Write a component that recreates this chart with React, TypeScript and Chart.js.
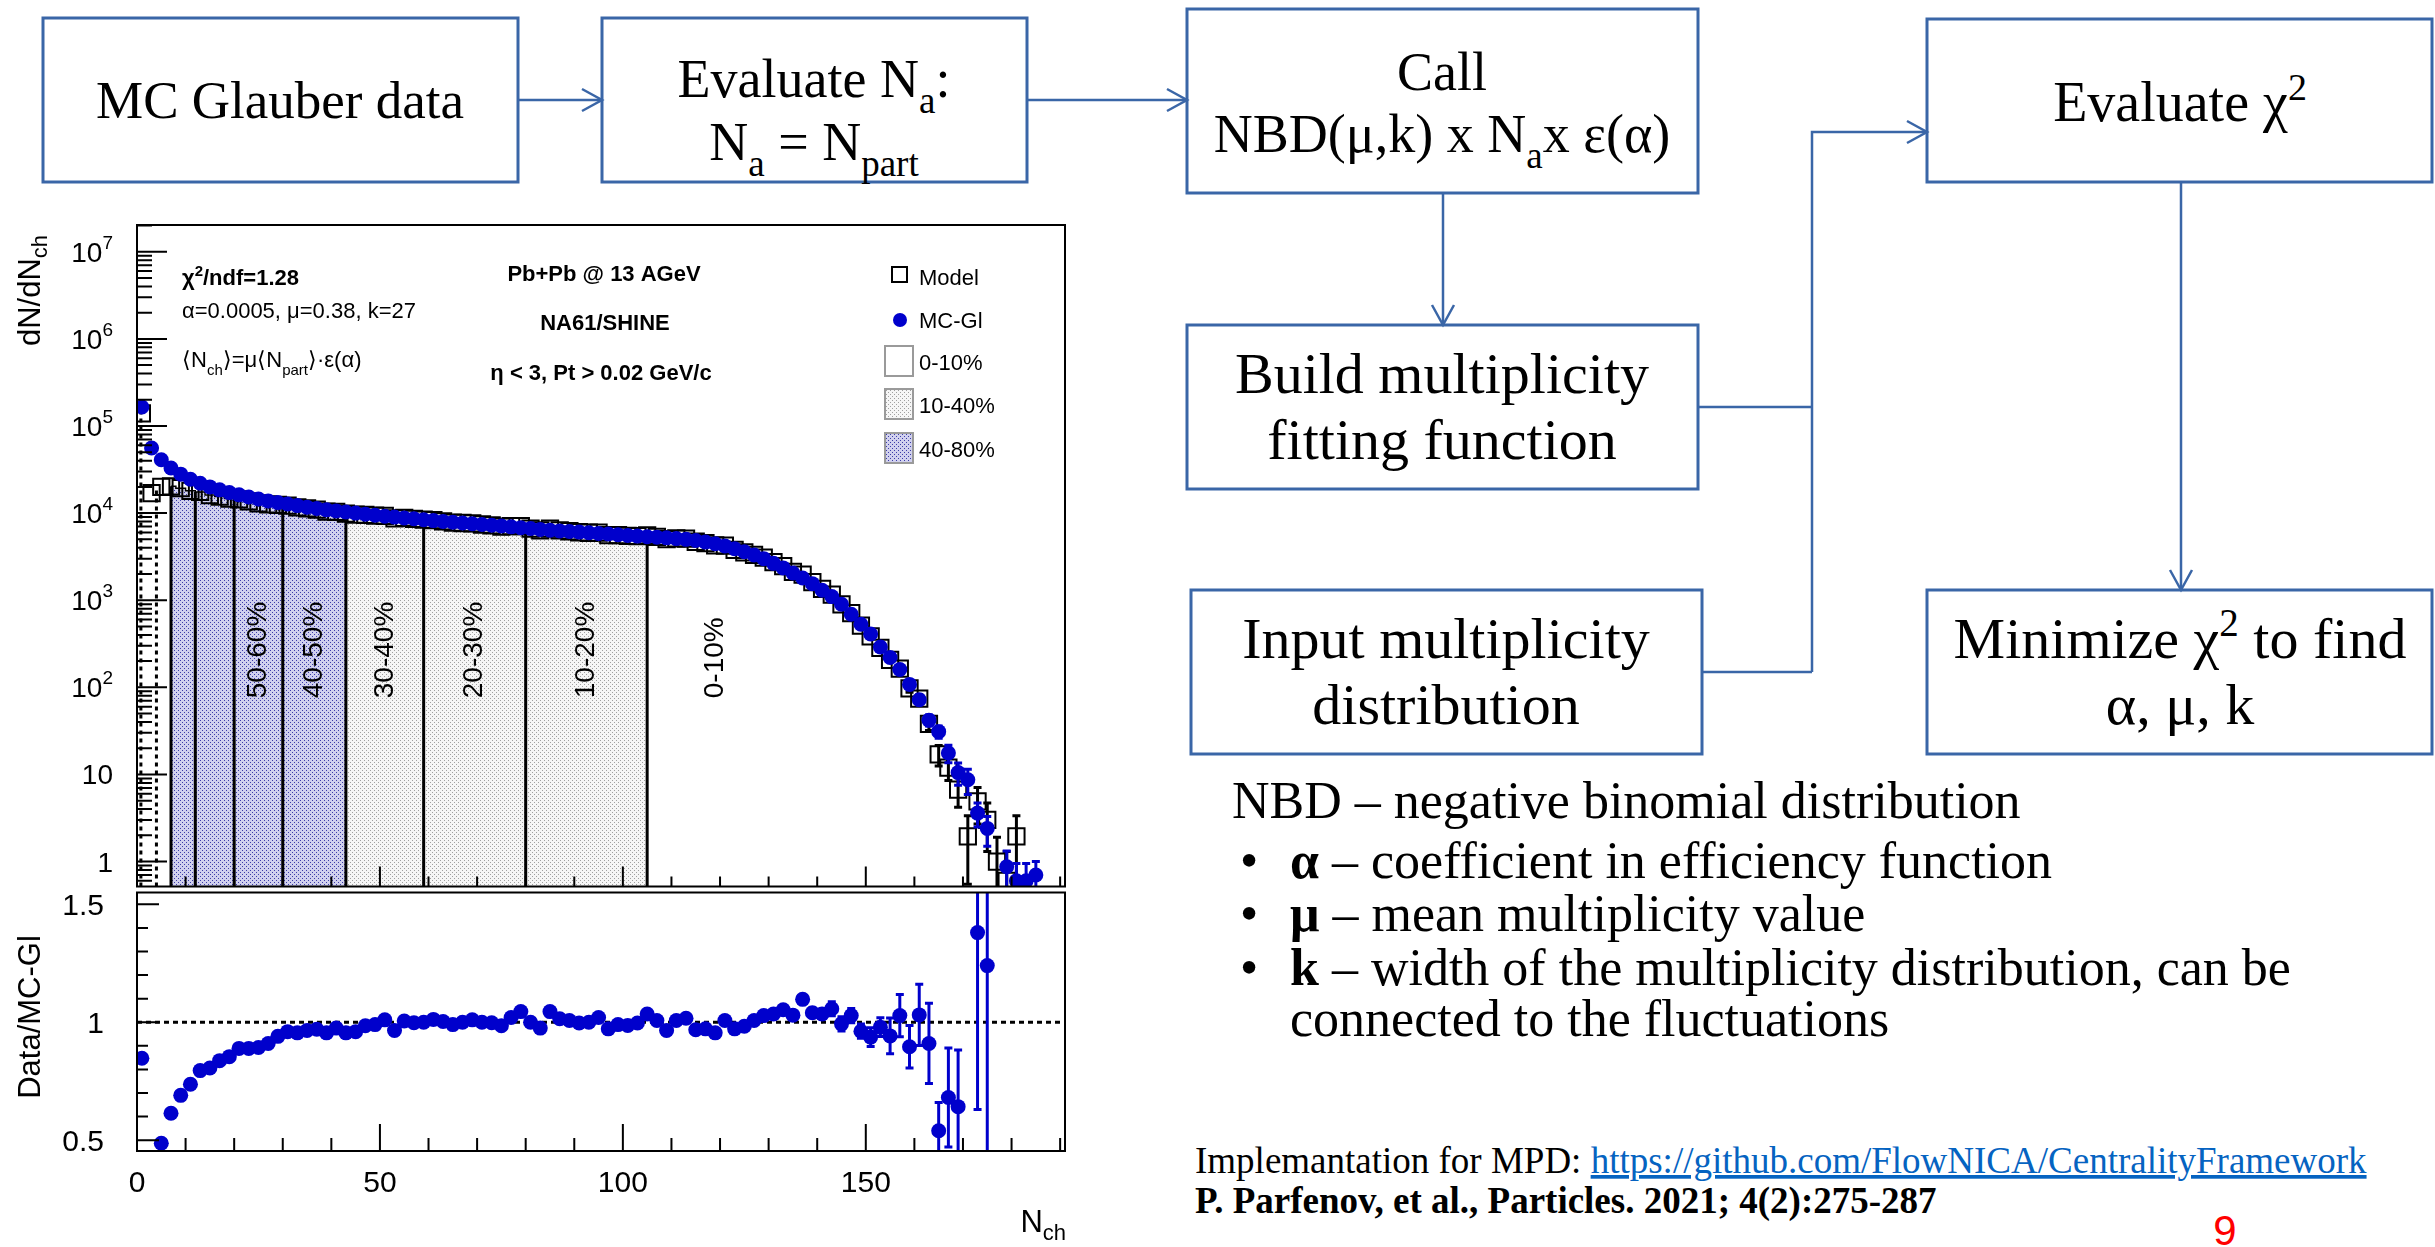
import React, { useEffect, useRef } from 'react';
import { Chart, registerables } from 'chart.js';

Chart.register(...registerables);

// ---------------- data ----------------
const binCenters = [
  1, 3, 5, 7, 9, 11, 13, 15, 17, 19, 21, 23, 25, 27, 29, 31, 33, 35, 37, 39,
  41, 43, 45, 47, 49, 51, 53, 55, 57, 59, 61, 63, 65, 67, 69, 71, 73, 75, 77, 79,
  81, 83, 85, 87, 89, 91, 93, 95, 97, 99, 101, 103, 105, 107, 109, 111, 113, 115, 117, 119,
  121, 123, 125, 127, 129, 131, 133, 135, 137, 139, 141, 143, 145, 147, 149, 151, 153, 155, 157, 159,
  161, 163, 165, 167, 169, 171, 173, 175, 177, 179, 181, 183, 185,
];

const mcglValues = [
  165000, 56000, 41000, 33000, 28000, 24500, 22000, 20000, 18500, 17200,
  16200, 15300, 14500, 13800, 13200, 12700, 12200, 11700, 11300, 10900,
  10600, 10300, 10000, 9700, 9450, 9200, 9000, 8800, 8600, 8400,
  8200, 8000, 7850, 7700, 7550, 7400, 7250, 7100, 6950, 6800,
  6650, 6500, 6350, 6250, 6150, 6050, 5950, 5850, 5750, 5650,
  5550, 5450, 5350, 5300, 5200, 5100, 5000, 4850, 4650, 4450,
  4200, 3900, 3600, 3300, 3000, 2650, 2350, 2050, 1800, 1550,
  1300, 1100, 900, 690, 530, 410, 290, 220, 160, 108,
  72, 42, 31, 17.6, 10.5, 8.7, 3.6, 2.4, null, 0.87,
  0.6, 0.6, 0.7,
];

const modelValues = [
  140000, 17000, 20000, 20300, 19300, 18000, 17500, 16100, 15500, 14700,
  14400, 13600, 12900, 12600, 12400, 12200, 11650, 11300, 10960, 10400,
  10300, 9840, 9600, 9550, 9360, 9290, 8690, 8840, 8580, 8400,
  8300, 8020, 7770, 7700, 7630, 7400, 7240, 6990, 7090, 7110,
  6650, 6340, 6640, 6340, 6190, 6030, 5950, 5970, 5590, 5590,
  5470, 5430, 5540, 5340, 5020, 5140, 5090, 4690, 4520, 4250,
  4230, 3790, 3540, 3320, 3080, 2740, 2470, 2110, 1970, 1610,
  1350, 1160, 894, 709, 510, 384, 284, 207, 164, 97,
  74, 38, 17, 12, 6.7, 1.95, 4.9, 3.0, 1.0, 0.6,
  1.95, null, null,
];

const ratioValues = [
  0.847, null, 0.487, 0.614, 0.69, 0.737, 0.795, 0.806, 0.837, 0.854,
  0.889, 0.889, 0.893, 0.91, 0.94, 0.96, 0.955, 0.965, 0.97, 0.955,
  0.975, 0.955, 0.96, 0.985, 0.99, 1.01, 0.965, 1.005, 0.998, 1.0,
  1.012, 1.003, 0.99, 1.0, 1.01, 1.0, 0.998, 0.985, 1.02, 1.045,
  1.0, 0.975, 1.045, 1.015, 1.007, 0.997, 1.0, 1.02, 0.972, 0.99,
  0.986, 0.997, 1.035, 1.007, 0.965, 1.007, 1.017, 0.968, 0.972, 0.955,
  1.007, 0.972, 0.983, 1.007, 1.028, 1.035, 1.053, 1.03, 1.097, 1.04,
  1.035, 1.057, 0.993, 1.028, 0.962, 0.937, 0.979, 0.942, 1.028, 0.896,
  1.031, 0.91, 0.54, 0.681, 0.642, null, 1.38, 1.24, null, null,
  null, null, null,
];

const mcglErrorPairs = [
  [163, 6], [165, 5], [167, 4], [169, 3], [171, 2.8], [173, 1.1], [175, 0.9],
  [179, 0.45], [181, 0.35], [183, 0.35], [185, 0.3],
];
const modelErrorPairs = [
  [155, 8], [157, 8], [159, 9], [161, 8], [163, 6], [165, 4.5], [167, 3.5], [169, 2.5],
  [171, 1.4], [173, 2.2], [175, 1.7], [177, 0.9], [179, 0.7], [181, 1.4],
];
const ratioErrorPairs = [
  [139, 0.02], [141, 0.02], [143, 0.03], [145, 0.03], [147, 0.03], [149, 0.03], [151, 0.04],
  [153, 0.04], [155, 0.076], [157, 0.09], [159, 0.09], [161, 0.13], [163, 0.17], [165, 0.12],
  [167, 0.21], [169, 0.24], [173, 0.75], [175, 0.8],
];

const centralityEdges = [7, 12, 20, 30, 43, 59, 80, 105];
const peripheralEdges = [0.8, 4];
const band40to80 = [7, 43];
const band10to40 = [43, 105];
const regionLabels = ['50-60%', '40-50%', '30-40%', '20-30%', '10-20%', '0-10%'];
const regionLabelN = [25, 36.5, 51, 69.5, 92.5, 119];
const regionLabelBaseValue = 75;
const upperYDecades = [0, 1, 2, 3, 4, 5, 6, 7];
const lowerYTickLabels = [0.5, 1, 1.5];
const xTickLabels = [0, 50, 100, 150];
const legendLabels = ['Model', 'MC-Gl', '0-10%', '10-40%', '40-80%'];
const ratioReference = 1;

const X_MIN = 0;
const X_MAX = 191;
const UPPER_Y_MIN = 0.517;
const UPPER_Y_MAX = 2.03e7;
const LOWER_Y_MIN = 0.454;
const LOWER_Y_MAX = 1.55;

// ---------------- layout ----------------
const UPPER_TOP = 200;
const LOWER_TOP = 885;
const CANVAS_W = 1110;
const UPPER_H = 700;
const LOWER_H = 362;

const SANS = '"Liberation Sans", Arial, Helvetica, sans-serif';
const SERIF = '"Liberation Serif", "Times New Roman", serif';
const MC_BLUE = '#0000cc';
const LINE = '#3a66a7';

type Seg = { t: string; s: number; dy?: number; b?: boolean };

function segFont(g: Seg) {
  return `${g.b ? 'bold ' : ''}${g.s}px ${SANS}`;
}
function richWidth(ctx: CanvasRenderingContext2D, segs: Seg[]) {
  let w = 0;
  for (const g of segs) {
    ctx.font = segFont(g);
    w += ctx.measureText(g.t).width;
  }
  return w;
}
function drawRich(ctx: CanvasRenderingContext2D, x: number, y: number, segs: Seg[], align: string) {
  const w = richWidth(ctx, segs);
  let cx = align === 'left' ? x : align === 'center' ? x - w / 2 : x - w;
  ctx.textAlign = 'left';
  for (const g of segs) {
    ctx.font = segFont(g);
    ctx.fillText(g.t, cx, y + (g.dy || 0));
    cx += ctx.measureText(g.t).width;
  }
}
function drawRichRotated(ctx: CanvasRenderingContext2D, x: number, y: number, segs: Seg[], align: string) {
  ctx.save();
  ctx.translate(x, y);
  ctx.rotate(-Math.PI / 2);
  drawRich(ctx, 0, 0, segs, align);
  ctx.restore();
}

function makePattern(bg: string, dot: string) {
  const c = document.createElement('canvas');
  c.width = 4;
  c.height = 4;
  const g = c.getContext('2d')!;
  g.fillStyle = bg;
  g.fillRect(0, 0, 4, 4);
  g.fillStyle = dot;
  g.fillRect(0, 0, 1, 1);
  g.fillRect(2, 2, 1, 1);
  return g.createPattern(c, 'repeat');
}

function modelAt(e: number) {
  const i = binCenters.findIndex((c) => e >= c - 1 && e < c + 1);
  return i >= 0 ? modelValues[i] : null;
}

function bandSteps(band: number[]) {
  const [a, b] = band;
  const pts: { x: number; y: number }[] = [];
  binCenters.forEach((c, i) => {
    const lo = c - 1;
    const hi = c + 1;
    const v = modelValues[i];
    if (v == null || hi <= a || lo >= b) return;
    pts.push({ x: Math.max(lo, a), y: v }, { x: Math.min(hi, b), y: v });
  });
  return pts;
}

const errorBars = {
  id: 'errorBars',
  beforeDatasetDraw(chart: any, args: any) {
    const ds: any = chart.data.datasets[args.index];
    if (!ds.errorPairs) return;
    const { ctx, chartArea: a } = chart;
    const xs = chart.scales.x;
    const ys = chart.scales.y;
    ctx.save();
    ctx.beginPath();
    ctx.rect(a.left, a.top, a.right - a.left, a.bottom - a.top);
    ctx.clip();
    ctx.strokeStyle = ds.errorColor;
    ctx.lineWidth = 3;
    ds.errorPairs.forEach(([n, e]: number[]) => {
      const p = ds.data.find((d: any) => d.x === n);
      if (!p || p.y == null) return;
      const px = xs.getPixelForValue(n);
      const top = ys.getPixelForValue(p.y + e);
      const lowV = p.y - e;
      const bot = lowV > 0 ? ys.getPixelForValue(lowV) : a.bottom + 10;
      ctx.beginPath();
      ctx.moveTo(px, top);
      ctx.lineTo(px, bot);
      ctx.moveTo(px - 4, top);
      ctx.lineTo(px + 4, top);
      ctx.moveTo(px - 4, bot);
      ctx.lineTo(px + 4, bot);
      ctx.stroke();
    });
    ctx.restore();
  },
};

function upperDecoration(blue: any, grey: any) {
  return {
    id: 'upperDecoration',
    afterDraw(chart: any) {
      const { ctx, chartArea: a } = chart;
      const xs = chart.scales.x;
      const ys = chart.scales.y;
      const P = (y: number) => y - UPPER_TOP;
      ctx.save();
      ctx.strokeStyle = '#000';
      ctx.lineWidth = 2;
      ctx.strokeRect(a.left, a.top, a.right - a.left, a.bottom - a.top);
      ctx.beginPath();
      for (let e = -1; e <= 7; e++) {
        for (let m = 1; m <= 9; m++) {
          const v = m * Math.pow(10, e);
          if (v < ys.min || v > ys.max) continue;
          const py = ys.getPixelForValue(v);
          ctx.moveTo(a.left, py);
          ctx.lineTo(a.left + (m === 1 ? 30 : 15), py);
        }
      }
      for (let v = 0; v <= xs.max; v += 10) {
        const px = xs.getPixelForValue(v);
        ctx.moveTo(px, a.bottom);
        ctx.lineTo(px, a.bottom - (v % 50 === 0 ? 20 : 10));
      }
      ctx.stroke();
      ctx.fillStyle = '#000';
      ctx.textBaseline = 'alphabetic';
      upperYDecades.forEach((d) => {
        const py = ys.getPixelForValue(Math.pow(10, d));
        const segs: Seg[] =
          d === 0 ? [{ t: '1', s: 28 }] : d === 1 ? [{ t: '10', s: 28 }] : [{ t: '10', s: 28 }, { t: String(d), s: 19, dy: -13 }];
        drawRich(ctx, a.left - 24, py + 10, segs, 'right');
      });
      drawRichRotated(ctx, 40, a.top + 10, [{ t: 'dN/dN', s: 31 }, { t: 'ch', s: 22, dy: 7 }], 'right');
      ctx.textBaseline = 'middle';
      regionLabels.forEach((lab, i) => {
        const px = xs.getPixelForValue(regionLabelN[i]);
        const py = ys.getPixelForValue(regionLabelBaseValue);
        drawRichRotated(ctx, px, py, [{ t: lab, s: 28 }], 'left');
      });
      ctx.textBaseline = 'alphabetic';
      drawRich(ctx, 182, P(285), [{ t: 'χ', s: 22, b: true }, { t: '2', s: 15, b: true, dy: -9 }, { t: '/ndf=1.28', s: 22, b: true }], 'left');
      drawRich(ctx, 182, P(318), [{ t: 'α=0.0005, μ=0.38, k=27', s: 22 }], 'left');
      drawRich(
        ctx,
        182,
        P(367),
        [
          { t: '⟨N', s: 22 },
          { t: 'ch', s: 15, dy: 8 },
          { t: '⟩=μ⟨N', s: 22 },
          { t: 'part', s: 15, dy: 8 },
          { t: '⟩·ε(α)', s: 22 },
        ],
        'left'
      );
      drawRich(ctx, 604, P(281), [{ t: 'Pb+Pb @ 13 AGeV', s: 22, b: true }], 'center');
      drawRich(ctx, 605, P(330), [{ t: 'NA61/SHINE', s: 22, b: true }], 'center');
      drawRich(ctx, 601, P(380), [{ t: 'η < 3, Pt > 0.02 GeV/c', s: 22, b: true }], 'center');
      ctx.lineWidth = 2;
      ctx.strokeStyle = '#000';
      ctx.strokeRect(892, P(267), 15, 15);
      ctx.fillStyle = MC_BLUE;
      ctx.beginPath();
      ctx.arc(900, P(320), 7, 0, Math.PI * 2);
      ctx.fill();
      ctx.strokeStyle = '#9a9a9a';
      ctx.fillStyle = '#fff';
      ctx.fillRect(885, P(346), 28, 30);
      ctx.strokeRect(885, P(346), 28, 30);
      ctx.fillStyle = grey;
      ctx.fillRect(885, P(389), 28, 30);
      ctx.strokeRect(885, P(389), 28, 30);
      ctx.fillStyle = blue;
      ctx.fillRect(885, P(433), 28, 30);
      ctx.strokeRect(885, P(433), 28, 30);
      ctx.fillStyle = '#000';
      const legY = [285, 328, 370, 413, 457];
      legendLabels.forEach((l, i) => drawRich(ctx, 919, P(legY[i]), [{ t: l, s: 22 }], 'left'));
      ctx.restore();
    },
  };
}

const lowerDecoration = {
  id: 'lowerDecoration',
  afterDraw(chart: any) {
    const { ctx, chartArea: a } = chart;
    const xs = chart.scales.x;
    const ys = chart.scales.y;
    ctx.save();
    ctx.strokeStyle = '#000';
    ctx.lineWidth = 2;
    ctx.strokeRect(a.left, a.top, a.right - a.left, a.bottom - a.top);
    ctx.beginPath();
    for (let k = 5; k <= 15; k++) {
      const v = k / 10;
      const py = ys.getPixelForValue(v);
      ctx.moveTo(a.left, py);
      ctx.lineTo(a.left + (k % 5 === 0 ? 22 : 11), py);
    }
    for (let v = 0; v <= xs.max; v += 10) {
      const px = xs.getPixelForValue(v);
      ctx.moveTo(px, a.bottom);
      ctx.lineTo(px, a.bottom - (v % 50 === 0 ? 27 : 13));
    }
    ctx.stroke();
    ctx.fillStyle = '#000';
    ctx.textBaseline = 'alphabetic';
    lowerYTickLabels.forEach((v) => drawRich(ctx, a.left - 33, ys.getPixelForValue(v) + 11, [{ t: String(v), s: 30 }], 'right'));
    xTickLabels.forEach((v) => drawRich(ctx, xs.getPixelForValue(v), 1192 - LOWER_TOP, [{ t: String(v), s: 30 }], 'center'));
    drawRichRotated(ctx, 40, 1017 - LOWER_TOP, [{ t: 'Data/MC-Gl', s: 31 }], 'center');
    drawRich(ctx, 1066, 1232 - LOWER_TOP, [{ t: 'N', s: 31 }, { t: 'ch', s: 22, dy: 8 }], 'right');
    ctx.restore();
  },
};

function upperConfig(blue: any, grey: any): any {
  const boundaryDatasets = centralityEdges.map((e) => ({
    data: [
      { x: e, y: UPPER_Y_MIN },
      { x: e, y: modelAt(e) },
    ],
    showLine: true,
    borderColor: '#000',
    borderWidth: 3,
    pointRadius: 0,
    order: 2,
  }));
  const dottedDatasets = peripheralEdges.map((e) => ({
    data: [
      { x: e, y: UPPER_Y_MIN },
      { x: e, y: modelAt(e) },
    ],
    showLine: true,
    borderColor: '#000',
    borderWidth: 3,
    borderDash: [4, 4],
    pointRadius: 0,
    order: 2,
  }));
  return {
    type: 'line',
    data: {
      datasets: [
        {
          label: 'MC-Gl',
          data: binCenters.map((x, i) => ({ x, y: mcglValues[i] })),
          showLine: false,
          pointStyle: 'circle',
          pointRadius: 7.5,
          pointBackgroundColor: MC_BLUE,
          pointBorderColor: MC_BLUE,
          pointBorderWidth: 0,
          errorPairs: mcglErrorPairs,
          errorColor: MC_BLUE,
          order: 0,
        },
        {
          label: 'Model',
          data: binCenters.map((x, i) => ({ x, y: modelValues[i] })),
          showLine: false,
          pointStyle: 'rect',
          pointRadius: 11.5,
          pointBackgroundColor: 'rgba(0,0,0,0)',
          pointBorderColor: '#000',
          pointBorderWidth: 2,
          errorPairs: modelErrorPairs,
          errorColor: '#000',
          order: 1,
        },
        ...boundaryDatasets,
        ...dottedDatasets,
        {
          label: '40-80%',
          data: bandSteps(band40to80),
          showLine: true,
          fill: 'start',
          backgroundColor: blue,
          borderColor: '#000',
          borderWidth: 1.5,
          pointRadius: 0,
          order: 3,
        },
        {
          label: '10-40%',
          data: bandSteps(band10to40),
          showLine: true,
          fill: 'start',
          backgroundColor: grey,
          borderColor: '#000',
          borderWidth: 1.5,
          pointRadius: 0,
          order: 3,
        },
      ],
    },
    options: {
      animation: false,
      responsive: false,
      maintainAspectRatio: false,
      devicePixelRatio: 1,
      events: [],
      layout: { padding: { left: 137, right: CANVAS_W - 1065, top: 225 - UPPER_TOP, bottom: UPPER_TOP + UPPER_H - 888 } },
      elements: { line: { tension: 0 } },
      scales: {
        x: { type: 'linear', min: X_MIN, max: X_MAX, display: false },
        y: { type: 'logarithmic', min: UPPER_Y_MIN, max: UPPER_Y_MAX, display: false },
      },
      plugins: { legend: { display: false }, tooltip: { enabled: false } },
    },
    plugins: [errorBars, upperDecoration(blue, grey)],
  };
}

function lowerConfig(): any {
  return {
    type: 'line',
    data: {
      datasets: [
        {
          label: 'Data/MC-Gl',
          data: binCenters.map((x, i) => ({ x, y: ratioValues[i] })),
          showLine: false,
          pointStyle: 'circle',
          pointRadius: 7.5,
          pointBackgroundColor: MC_BLUE,
          pointBorderColor: MC_BLUE,
          pointBorderWidth: 0,
          errorPairs: ratioErrorPairs,
          errorColor: MC_BLUE,
          order: 0,
        },
        {
          label: 'reference',
          data: [
            { x: X_MIN, y: ratioReference },
            { x: X_MAX, y: ratioReference },
          ],
          showLine: true,
          borderColor: '#000',
          borderWidth: 3,
          borderDash: [5, 4],
          pointRadius: 0,
          order: 1,
        },
      ],
    },
    options: {
      animation: false,
      responsive: false,
      maintainAspectRatio: false,
      devicePixelRatio: 1,
      events: [],
      layout: { padding: { left: 137, right: CANVAS_W - 1065, top: 888 - LOWER_TOP, bottom: LOWER_TOP + LOWER_H - 1151 } },
      scales: {
        x: { type: 'linear', min: X_MIN, max: X_MAX, display: false },
        y: { type: 'linear', min: LOWER_Y_MIN, max: LOWER_Y_MAX, display: false },
      },
      plugins: { legend: { display: false }, tooltip: { enabled: false } },
    },
    plugins: [errorBars, lowerDecoration],
  };
}

function Chevron({ x, y, dir }: { x: number; y: number; dir: string }) {
  const d =
    dir === 'right'
      ? `M${x - 20},${y - 11} L${x},${y} L${x - 20},${y + 11}`
      : `M${x - 11},${y - 20} L${x},${y} L${x + 11},${y - 20}`;
  return <path d={d} fill="none" stroke={LINE} strokeWidth={2.5} />;
}

const boxes = [
  { x: 43, y: 18, w: 475, h: 164 },
  { x: 602, y: 18, w: 425, h: 164 },
  { x: 1187, y: 9, w: 511, h: 184 },
  { x: 1187, y: 325, w: 511, h: 164 },
  { x: 1191, y: 590, w: 511, h: 164 },
  { x: 1927, y: 19, w: 505, h: 163 },
  { x: 1927, y: 590, w: 505, h: 164 },
];

export default function App() {
  const upRef = useRef<HTMLCanvasElement>(null);
  const loRef = useRef<HTMLCanvasElement>(null);

  useEffect(() => {
    const blue = makePattern('#d0d0ee', '#3c3ca8');
    const grey = makePattern('#f6f6f6', '#a0a0a0');
    const up = new Chart(upRef.current as HTMLCanvasElement, upperConfig(blue, grey));
    const lo = new Chart(loRef.current as HTMLCanvasElement, lowerConfig());
    return () => {
      up.destroy();
      lo.destroy();
    };
  }, []);

  return (
    <div style={{ position: 'absolute', left: 0, top: 0, width: 2435, height: 1247, background: '#fff', overflow: 'hidden' }}>
      <svg width={2435} height={1247} style={{ position: 'absolute', left: 0, top: 0 }}>
        {boxes.map((b, i) => (
          <rect key={i} x={b.x} y={b.y} width={b.w} height={b.h} fill="none" stroke={LINE} strokeWidth={3} />
        ))}
        <g fill="none" stroke={LINE} strokeWidth={2.5}>
          <path d="M518,100 H602" />
          <path d="M1027,100 H1187" />
          <path d="M1443,193 V325" />
          <path d="M1698,407 H1812 M1702,672 H1812 M1812,672 V132 H1927" />
          <path d="M2181,182 V590" />
        </g>
        <Chevron x={602} y={100} dir="right" />
        <Chevron x={1187} y={100} dir="right" />
        <Chevron x={1443} y={325} dir="down" />
        <Chevron x={1927} y={132} dir="right" />
        <Chevron x={2181} y={590} dir="down" />
        <g fontFamily={SERIF} fontSize={53} fill="#000" textAnchor="middle">
          <text x={280} y={118}>MC Glauber data</text>
          <text x={814} y={97} fontSize={54}>
            Evaluate N<tspan dy={16} fontSize={37}>a</tspan>
            <tspan dy={-16}>:</tspan>
          </text>
          <text x={814} y={160} fontSize={54}>
            N<tspan dy={16} fontSize={37}>a</tspan>
            <tspan dy={-16}>{' = N'}</tspan>
            <tspan dy={16} fontSize={37}>part</tspan>
          </text>
          <text x={1442} y={90} fontSize={54}>Call</text>
          <text x={1442} y={152} fontSize={54}>
            NBD(μ,k) x N<tspan dy={16} fontSize={37}>a</tspan>
            <tspan dy={-16}>x ε(α)</tspan>
          </text>
          <text x={2180} y={121} fontSize={56}>
            Evaluate χ<tspan dy={-21} fontSize={38}>2</tspan>
          </text>
          <g fontSize={58}>
            <text x={1442} y={393}>Build multiplicity</text>
            <text x={1442} y={459}>fitting function</text>
            <text x={1446} y={658}>Input multiplicity</text>
            <text x={1446} y={724}>distribution</text>
            <text x={2180} y={658}>
              Minimize χ<tspan dy={-22} fontSize={39}>2</tspan>
              <tspan dy={22}>{' to find'}</tspan>
            </text>
            <text x={2180} y={724}>α, μ, k</text>
          </g>
        </g>
        <g fontFamily={SERIF} fontSize={52} fill="#000">
          <text x={1232} y={818}>NBD – negative binomial distribution</text>
          <text x={1240} y={878}>•</text>
          <text x={1290} y={878}>
            <tspan fontWeight="bold">α</tspan>
            {' – coefficient in efficiency function'}
          </text>
          <text x={1240} y={931}>•</text>
          <text x={1290} y={931}>
            <tspan fontWeight="bold">μ</tspan>
            {' – mean multiplicity value'}
          </text>
          <text x={1240} y={985}>•</text>
          <text x={1290} y={985}>
            <tspan fontWeight="bold">k</tspan>
            {' – width of the multiplicity distribution, can be'}
          </text>
          <text x={1290} y={1036}>connected to the fluctuations</text>
        </g>
        <g fontFamily={SERIF} fontSize={37} fill="#000">
          <text x={1195} y={1173}>
            {'Implemantation for MPD: '}
            <tspan fill="#0563c1" style={{ textDecoration: 'underline' }}>
              https://github.com/FlowNICA/CentralityFramework
            </tspan>
          </text>
          <text x={1195} y={1213} fontWeight="bold">
            P. Parfenov, et al., Particles. 2021; 4(2):275-287
          </text>
        </g>
        <text x={2225} y={1245} fontFamily={SANS} fontSize={42} fill="#ff0000" textAnchor="middle">
          9
        </text>
      </svg>
      <canvas
        ref={upRef}
        width={CANVAS_W}
        height={UPPER_H}
        style={{ position: 'absolute', left: 0, top: UPPER_TOP, width: CANVAS_W, height: UPPER_H }}
      />
      <canvas
        ref={loRef}
        width={CANVAS_W}
        height={LOWER_H}
        style={{ position: 'absolute', left: 0, top: LOWER_TOP, width: CANVAS_W, height: LOWER_H }}
      />
    </div>
  );
}
